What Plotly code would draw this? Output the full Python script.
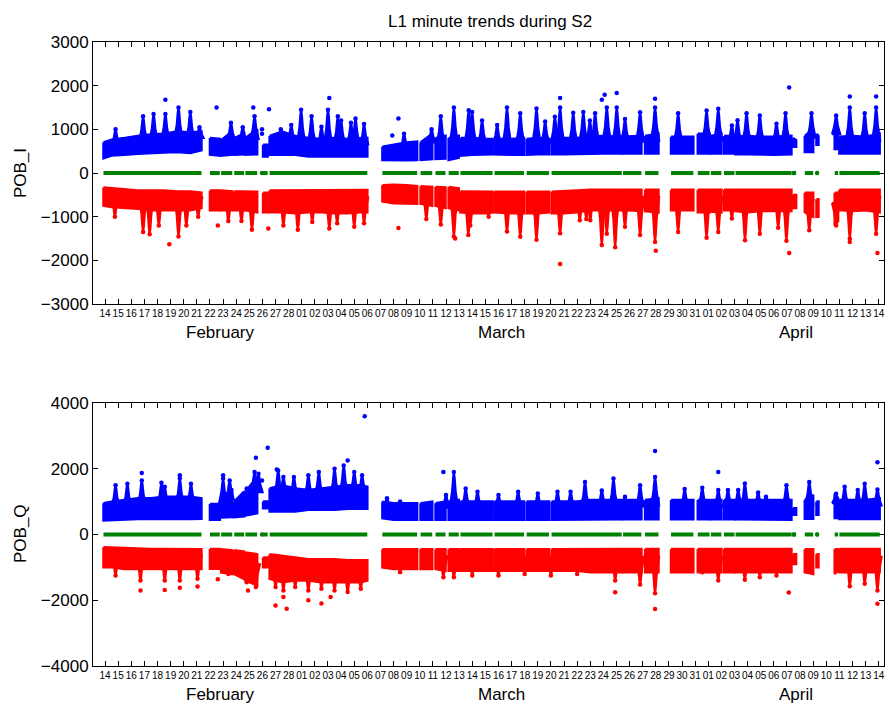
import numpy as np
import plotly.graph_objects as go

# ---------------- data ----------------
# x in days, 0 = Feb 14 tick
day_labels = [str(d) for d in range(14, 29)] + ["%02d" % d for d in range(1, 32)] + ["%02d" % d for d in range(1, 15)]
month_names = ["February", "March", "April"]
month_pos = [8.8, 30.2, 52.7]

knot_x = [-0.12, 0.5, 1.5, 2.5, 3.5, 4.5, 5.5, 6.5, 7.35, None,
          8.0, 8.75, None, 8.85, 9.7, None, 9.85, 10.6, None, 10.7, 11.6, None,
          12.05, 12.4, None,
          12.55, 13.5, 14.5, 15.5, 16.5, 17.5, 18.5, 19.5, 20.0, None,
          21.15, 22.0, 23.0, 23.8, None, 24.06, 24.95, None, 25.2, 25.96, None,
          26.2, 26.97, None, 27.1, 28.0, 29.0, 29.55, None, 29.7, 31.0, 31.95, None,
          32.15, 33.0, 33.85, None, 34.05, 35.0, 36.0, 37.0, 38.0, 39.4, None,
          39.5, 40.9, None, 41.18, 42.2, None, 43.16, 44.86, None, 45.2, 46.1, None,
          46.2, 47.0, None, 47.2, 48.0, None, 48.08, 49.0, 50.0, 51.0, 52.34, None,
          52.45, 52.7, None, 53.36, 54.0, None, 54.25, 54.4, None, 55.64, 55.9, None,
          56.0, 57.0, 58.0, 59.07]

# top panel (POB_I), blue body
ti_blue_lo = [340, 400, 420, 440, 460, 470, 480, 460, 520, None,
              420, 400, None, 400, 420, None, 420, 430, None, 420, 430, None,
              380, 380, None,
              420, 420, 420, 380, 380, 380, 380, 380, 380, None,
              300, 290, 290, 300, None, 300, 320, None, 320, 330, None,
              300, 350, None, 400, 420, 430, 430, None, 430, 420, 420, None,
              420, 430, 430, None, 430, 430, 430, 440, 450, 450, None,
              450, 450, None, 450, 450, None, 450, 450, None, 450, 450, None,
              450, 450, None, 450, 450, None, 430, 430, 430, 420, 430, None,
              600, 600, None, 480, 480, None, 650, 650, None, 550, 550, None,
              450, 450, 450, 450]
ti_blue_hi = [700, 760, 800, 850, 880, 900, 950, 930, 950, None,
              800, 780, None, 750, 950, None, 800, 900, None, 800, 1000, None,
              650, 650, None,
              850, 950, 850, 800, 780, 800, 780, 800, 800, None,
              600, 650, 700, 720, None, 700, 900, None, 800, 850, None,
              800, 850, None, 800, 800, 780, 780, None, 780, 780, 800, None,
              780, 800, 780, None, 800, 800, 800, 830, 850, 830, None,
              830, 850, None, 850, 900, None, 830, 830, None, 900, 900, None,
              850, 900, None, 850, 850, None, 830, 850, 830, 830, 850, None,
              800, 750, None, 850, 1000, None, 900, 850, None, 1100, 1000, None,
              830, 850, 830, 900]
ti_blue_spk_x = [0.8, 2.9, 3.7, 4.6, 5.6, 6.5, 7.2, 9.6, 10.5, 11.4, 13.4, 14.2, 14.95, 15.75, 16.5, 17.0,
                 17.75, 18.0, 18.75, 19.1, 19.75, 22.8, 24.9, 25.6, 26.6, 27.73, 27.99, 28.75, 29.9, 30.65,
                 31.66, 32.9, 33.56, 34.3, 34.7, 35.7, 36.47, 36.97, 37.37, 38.26, 39.02, 39.65, 40.8,
                 41.94, 43.7, 45.87, 46.76, 47.8, 48.23, 48.92, 49.93, 51.2, 51.89, 53.87, 55.75, 56.79,
                 57.93, 58.8]
ti_blue_spk_y = [1000, 1300, 1350, 1350, 1500, 1400, 1050, 1150, 1050, 1300, 1000, 1100, 1450, 1300, 1060, 1450,
                 1300, 1200, 1150, 1250, 1120, 900, 1000, 1300, 1500, 1440, 1400, 1200, 1100, 1500,
                 1370, 1480, 1180, 1290, 1500, 1380, 1400, 1200, 1370, 1500, 1500, 1240, 1390,
                 1500, 1370, 1430, 1470, 1090, 1210, 1370, 1320, 1130, 1370, 1370, 1320, 1500,
                 1370, 1500]
ti_blue_out_x = [4.6, 8.5, 11.3, 11.97, 11.97, 12.5, 17.1, 22.37, 21.9, 37.88, 38.1, 39.02, 41.94, 52.17, 34.7, 56.79, 58.8]
ti_blue_out_y = [1680, 1500, 1500, 1000, 900, 1460, 1716, 1250, 860, 1680, 1790, 1830, 1700, 1960, 1720, 1750, 1750]

# top panel, red body
ti_red_hi = [-330, -350, -380, -400, -400, -400, -420, -420, -450, None,
             -400, -400, None, -400, -420, None, -420, -420, None, -420, -430, None,
             -450, -450, None,
             -400, -400, -390, -390, -390, -390, -390, -390, -390, None,
             -280, -270, -280, -300, None, -300, -320, None, -320, -330, None,
             -320, -350, None, -420, -430, -430, -430, None, -430, -430, -430, None,
             -430, -430, -430, None, -430, -420, -400, -380, -380, -380, None,
             -380, -380, None, -380, -380, None, -380, -380, None, -380, -380, None,
             -380, -380, None, -380, -380, None, -380, -380, -380, -380, -380, None,
             -500, -500, None, -450, -450, None, -600, -600, None, -450, -450, None,
             -380, -380, -380, -380]
ti_red_lo = [-750, -780, -800, -820, -850, -850, -850, -850, -800, None,
             -850, -850, None, -850, -850, None, -850, -850, None, -850, -900, None,
             -900, -900, None,
             -900, -900, -920, -900, -900, -920, -920, -900, -900, None,
             -650, -690, -690, -700, None, -700, -750, None, -750, -800, None,
             -800, -850, None, -900, -920, -920, -900, None, -900, -920, -920, None,
             -920, -920, -900, None, -920, -920, -900, -850, -850, -850, None,
             -850, -870, None, -870, -900, None, -850, -850, None, -900, -900, None,
             -880, -900, None, -850, -850, None, -870, -900, -870, -870, -870, None,
             -800, -800, None, -900, -1000, None, -1000, -1000, None, -1200, -1100, None,
             -850, -870, -850, -900]
ti_red_spk_x = [0.75, 2.9, 3.4, 4.1, 5.6, 6.2, 7.1, 9.4, 10.4, 11.2, 13.6, 14.7, 15.8, 17.1, 17.7, 19.0, 19.75,
                24.5, 25.6, 26.6, 27.7, 27.85, 29.25, 30.65, 31.66, 32.9, 34.7, 36.2, 36.7, 37.0, 37.88,
                38.26, 38.9, 39.65, 40.8, 41.94, 43.7, 45.87, 46.76, 47.8, 48.8, 49.93, 51.33, 51.96, 53.7,
                55.75, 56.79, 58.8]
ti_red_spk_y = [-1000, -1350, -1400, -1200, -1450, -1200, -1000, -1100, -1100, -1300, -1200, -1300, -1120, -1270,
                -1150, -1230, -1150, -1050, -1180, -1450, -1420, -1200, -1000, -1340, -1460, -1530, -1380,
                -1080, -1050, -1080, -1650, -1390, -1700, -1230, -1420, -1580, -1350, -1480, -1350, -1040,
                -1540, -1390, -1250, -1550, -1310, -1200, -1500, -1390]
ti_red_out_x = [4.9, 8.6, 12.45, 22.37, 26.7, 34.7, 52.17, 56.79, 58.9, 42.0]
ti_red_out_y = [-1630, -1200, -1270, -1260, -1500, -2080, -1830, -1580, -1830, -1780]

# bottom panel (POB_Q), blue body
tq_blue_lo = [430, 450, 450, 470, 480, 480, 480, 470, 480, None,
              450, 450, None, 520, 530, None, 530, 550, None, 580, 650, None,
              800, 800, None,
              700, 700, 700, 750, 750, 750, 780, 780, 780, None,
              500, 450, 450, 450, None, 450, 450, None, 450, 450, None,
              450, 450, None, 450, 450, 450, 450, None, 450, 450, 450, None,
              450, 450, 450, None, 450, 450, 450, 450, 460, 460, None,
              460, 460, None, 460, 460, None, 460, 460, None, 460, 460, None,
              460, 460, None, 460, 460, None, 460, 460, 460, 450, 450, None,
              600, 600, None, 480, 480, None, 600, 600, None, 500, 500, None,
              470, 470, 470, 470]
tq_blue_hi = [950, 1000, 1050, 1100, 1100, 1150, 1150, 1150, 1100, None,
              930, 930, None, 1100, 1400, None, 1000, 1300, None, 1300, 1750, None,
              1000, 1000, None,
              1400, 1500, 1400, 1350, 1400, 1450, 1500, 1500, 1450, None,
              1000, 950, 950, 950, None, 950, 1000, None, 950, 1000, None,
              1000, 1050, None, 1000, 1000, 1000, 1000, None, 1000, 1000, 1000, None,
              1000, 1000, 1000, None, 1000, 1000, 1000, 1050, 1050, 1050, None,
              1050, 1050, None, 1050, 1100, None, 1050, 1050, None, 1050, 1050, None,
              1050, 1050, None, 1050, 1050, None, 1050, 1050, 1050, 1050, 1050, None,
              800, 800, None, 1050, 1200, None, 1000, 1000, None, 1240, 1100, None,
              1050, 1050, 1050, 1100]
tq_blue_spk_x = [0.8, 1.7, 2.8, 4.3, 4.55, 5.7, 6.55, 9.0, 9.5, 10.8, 11.4, 11.7, 13.2, 13.6, 14.4, 15.5, 16.3,
                 17.5, 18.2, 19.0, 19.6, 21.5, 22.5, 26.0, 26.6, 27.5, 28.4, 30.0, 31.5, 33.0, 34.5, 35.5,
                 36.6, 37.88, 38.77, 39.65, 40.8, 41.94, 44.2, 45.54, 46.76, 47.5, 48.28, 48.79, 49.8, 50.4,
                 51.96, 53.7, 55.75, 56.4, 57.4, 57.93, 58.9]
tq_blue_spk_y = [1500, 1540, 1640, 1570, 1450, 1700, 1540, 1700, 1645, 1400, 1900, 1850, 1950, 1750, 1750, 1800,
                 1900, 2000, 2100, 1900, 1800, 1100, 1000, 1200, 1900, 1400, 1300, 1200, 1300, 1250, 1300,
                 1300, 1600, 1340, 1700, 1150, 1500, 1750, 1380, 1420, 1350, 1350, 1350, 1550, 1280, 1150,
                 1500, 1600, 1240, 1450, 1350, 1540, 1370]
tq_blue_out_x = [2.8, 5.7, 9.0, 11.5, 11.97, 12.4, 13.1, 18.5, 19.8, 41.94, 46.76, 58.9, 25.8]
tq_blue_out_y = [1870, 1800, 1800, 2335, 1645, 2640, 1980, 2250, 3600, 2540, 1900, 2200, 1900]

# bottom panel, red body
tq_red_hi = [-390, -400, -420, -430, -440, -440, -450, -450, -450, None,
             -440, -440, None, -450, -480, None, -480, -520, None, -550, -600, None,
             -700, -700, None,
             -600, -650, -700, -750, -750, -750, -780, -780, -780, None,
             -450, -450, -450, -450, None, -450, -450, None, -450, -450, None,
             -450, -450, None, -450, -450, -450, -450, None, -450, -450, -450, None,
             -450, -450, -450, None, -450, -450, -450, -440, -440, -440, None,
             -440, -440, None, -440, -440, None, -440, -440, None, -440, -440, None,
             -440, -440, None, -440, -440, None, -440, -440, -440, -440, -440, None,
             -600, -600, None, -450, -450, None, -600, -600, None, -450, -450, None,
             -440, -440, -440, -440]
tq_red_lo = [-1000, -1000, -1050, -1050, -1050, -1050, -1050, -1050, -1050, None,
             -1045, -1045, None, -1150, -1200, None, -1200, -1350, None, -1400, -1550, None,
             -1000, -1000, None,
             -1350, -1450, -1400, -1400, -1450, -1450, -1450, -1450, -1400, None,
             -1000, -1050, -1050, -1050, None, -1050, -1050, None, -1050, -1100, None,
             -1100, -1100, None, -1100, -1100, -1100, -1100, None, -1100, -1100, -1100, None,
             -1100, -1100, -1100, None, -1100, -1100, -1100, -1150, -1150, -1150, None,
             -1150, -1150, None, -1150, -1150, None, -1150, -1150, None, -1150, -1150, None,
             -1150, -1150, None, -1150, -1150, None, -1150, -1150, -1150, -1150, -1150, None,
             -900, -900, None, -1150, -1200, None, -1000, -1000, None, -1200, -1100, None,
             -1150, -1150, -1150, -1150]
tq_red_spk_x = [0.8, 2.7, 4.55, 5.7, 7.05, 9.4, 10.8, 11.5, 13.0, 13.6, 14.5, 15.5, 16.5, 17.5, 18.5, 19.5, 22.5,
                25.8, 26.6, 28.0, 30.0, 32.0, 34.0, 36.0, 38.9, 40.8, 41.94, 45.54, 46.76, 48.79, 49.93, 51.2,
                56.79, 57.93, 58.9]
tq_red_spk_y = [-1250, -1400, -1400, -1400, -1350, -1200, -1450, -1600, -1600, -1700, -1600, -1700, -1650, -1700,
                -1750, -1650, -1150, -1300, -1300, -1250, -1250, -1200, -1250, -1200, -1400, -1523, -1787,
                -1150, -1400, -1380, -1300, -1250, -1574, -1500, -1700]
tq_red_out_x = [2.7, 4.55, 5.7, 7.05, 8.6, 10.9, 13.0, 13.85, 13.6, 15.5, 16.5, 17.2, 38.9, 41.94, 52.14, 58.9]
tq_red_out_y = [-1700, -1685, -1620, -1580, -1360, -1700, -2160, -2260, -1900, -2000, -2100, -1900, -1756, -2264,
                -1766, -2110]

# isolated green samples
green_pts_x = [11.97, 52.5, 54.3]

# ---------------- helpers ----------------
BLUE, RED, GREEN = "#0000ff", "#ff0000", "#008000"
# shape of a daily peak column: (half width in days, fraction of the rise)
PEAK_SHAPE = [(0.32, 0.0), (0.14, 0.45), (0.06, 0.85), (0.0, 1.0)]


def segments(xs, *cols):
    out, cur = [], []
    for i, x in enumerate(xs):
        if x is None:
            if cur:
                out.append(cur)
            cur = []
        else:
            cur.append((x,) + tuple(c[i] for c in cols))
    if cur:
        out.append(cur)
    return out


def body(xs, lo, hi):
    px, py = [], []
    for seg in segments(xs, lo, hi):
        sx = [s[0] for s in seg]
        slo = [s[1] for s in seg]
        shi = [s[2] for s in seg]
        px += sx + sx[::-1] + [sx[0], None]
        py += shi + slo[::-1] + [shi[0], None]
    return px, py


def spikes(xs, lo, hi, sx, sy):
    kx = np.array([x for x in xs if x is not None])
    kmid = np.array([(l + 2 * h) / 3 for x, l, h in zip(xs, lo, hi) if x is not None])
    px, py = [], []
    for x, y in zip(sx, sy):
        base = float(np.interp(x, kx, kmid))
        left = [(x - w, base + f * (y - base)) for w, f in PEAK_SHAPE]
        right = [(x + w, base + f * (y - base)) for w, f in PEAK_SHAPE[::-1][1:]]
        pts = left + right + [left[0]]
        px += [p[0] for p in pts] + [None]
        py += [p[1] for p in pts] + [None]
    return px, py


fig = go.Figure()


def add_panel(yax, blo, bhi, bsx, bsy, box, boy, rhi, rlo, rsx, rsy, rox, roy):
    xa = "x" if yax == "y" else "x2"
    for lo, hi, sx, sy, ox, oy, col in [(blo, bhi, bsx, bsy, box, boy, BLUE),
                                          (rlo, rhi, rsx, rsy, rox, roy, RED)]:
        bx, by = body(knot_x, lo, hi)
        fig.add_trace(go.Scatter(x=bx, y=by, mode="lines", fill="toself", fillcolor=col,
                                 line=dict(color=col, width=2.5), xaxis=xa, yaxis=yax,
                                 hoverinfo="skip", showlegend=False))
        spx, spy = spikes(knot_x, lo, hi, sx, sy)
        fig.add_trace(go.Scatter(x=spx, y=spy, mode="lines", fill="toself", fillcolor=col,
                                 line=dict(color=col, width=2),
                                 xaxis=xa, yaxis=yax, hoverinfo="skip", showlegend=False))
        fig.add_trace(go.Scatter(x=sx + ox, y=sy + oy, mode="markers",
                                 marker=dict(color=col, size=4.5), xaxis=xa, yaxis=yax,
                                 hoverinfo="skip", showlegend=False))
    gx, gy = [], []
    for seg in segments(knot_x):
        gx += [seg[0][0], seg[-1][0], None]
        gy += [0, 0, None]
    fig.add_trace(go.Scatter(x=gx, y=gy, mode="lines", line=dict(color=GREEN, width=4),
                             xaxis=xa, yaxis=yax, hoverinfo="skip", showlegend=False))
    fig.add_trace(go.Scatter(x=green_pts_x, y=[0] * len(green_pts_x), mode="markers",
                             marker=dict(color=GREEN, size=4.5), xaxis=xa, yaxis=yax,
                             hoverinfo="skip", showlegend=False))


add_panel("y", ti_blue_lo, ti_blue_hi, ti_blue_spk_x, ti_blue_spk_y, ti_blue_out_x, ti_blue_out_y,
          ti_red_hi, ti_red_lo, ti_red_spk_x, ti_red_spk_y, ti_red_out_x, ti_red_out_y)
add_panel("y2", tq_blue_lo, tq_blue_hi, tq_blue_spk_x, tq_blue_spk_y, tq_blue_out_x, tq_blue_out_y,
          tq_red_hi, tq_red_lo, tq_red_spk_x, tq_red_spk_y, tq_red_out_x, tq_red_out_y)

FONT = "Liberation Sans, Arial, sans-serif"
xcommon = dict(range=[-0.92, 59.4], tickmode="array", tickvals=list(range(len(day_labels))),
               ticktext=day_labels, ticks="inside", ticklen=5, tickcolor="black", tickangle=0,
               showline=True, linecolor="black", linewidth=1, mirror="ticks", automargin=False,
               showgrid=False, zeroline=False, tickfont=dict(size=10, color="black", family=FONT))
ycommon = dict(ticks="inside", ticklen=5, tickcolor="black", showline=True, linecolor="black",
               linewidth=1, mirror="ticks", showgrid=False, zeroline=False, automargin=False,
               tickfont=dict(size=17, color="black", family=FONT))

fig.update_layout(
    width=889, height=707, margin=dict(l=93, r=5, t=42, b=41),
    paper_bgcolor="white", plot_bgcolor="white",
    font=dict(family=FONT, color="black"),
    xaxis=dict(domain=[0, 1], anchor="y", **xcommon),
    xaxis2=dict(domain=[0, 1], anchor="y2", **xcommon),
    yaxis=dict(domain=[0.58, 1], anchor="x", range=[-3000, 3000], tickvals=[-3000, -2000, -1000, 0, 1000, 2000, 3000], **ycommon),
    yaxis2=dict(domain=[0, 0.4215], anchor="x2", range=[-4000, 4000], tickvals=[-4000, -2000, 0, 2000, 4000], **ycommon),
    title=dict(text="L1 minute trends during S2", x=0.502, xref="paper", xanchor="center",
               y=1 - 21 / 707, yanchor="middle", font=dict(size=17, family=FONT, color="black")),
    showlegend=False,
)

ann = []
for name, pos in zip(month_names, month_pos):
    ann.append(dict(text=name, x=pos, xref="x", y=0.535, yref="paper", showarrow=False,
                    xanchor="center", yanchor="middle", font=dict(size=17, family=FONT, color="black")))
    ann.append(dict(text=name, x=pos, xref="x2", y=-0.045, yref="paper", showarrow=False,
                    xanchor="center", yanchor="middle", font=dict(size=17, family=FONT, color="black")))
ann.append(dict(text="POB_I", x=(20 - 93) / 791, xref="paper", y=0.79, yref="paper", textangle=-90,
                showarrow=False, xanchor="center", yanchor="middle", font=dict(size=17, family=FONT, color="black")))
ann.append(dict(text="POB_Q", x=(20 - 93) / 791, xref="paper", y=0.2115, yref="paper", textangle=-90,
                showarrow=False, xanchor="center", yanchor="middle", font=dict(size=17, family=FONT, color="black")))
fig.update_layout(annotations=ann)

fig.write_html("out.html", config={"displayModeBar": False})
# remove the browser's default page margin so the figure sits at the window's corner
with open("out.html", encoding="utf-8") as f:
    html = f.read()
html = html.replace("<body>", '<body style="margin:0;padding:0;overflow:hidden;">', 1)
with open("out.html", "w", encoding="utf-8") as f:
    f.write(html)
